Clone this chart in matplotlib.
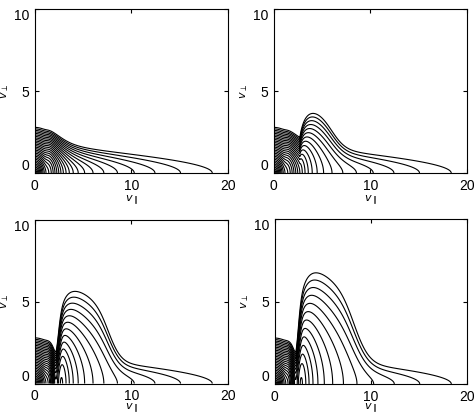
import numpy as np
import matplotlib
matplotlib.use("Agg")
import matplotlib.pyplot as plt

# ---- axis ticks ----
vpar_ticks = [0, 10, 20]
vperp_ticks = [0, 5, 10]

# ---- contour levels (ln f) ----
n_levels = 30
level_step = 0.13

# ---- background distribution (core + runaway tail) ----
core_rate = 1.4          # ln f_core = -core_rate * |v|
core_stretch = 1.08      # elongation of the core along v_par
tail_amp_ln = 0.18
tail_index = 2.37
tail_tperp0 = 1.0
tail_tperp_slope = 0.06
tail_onset = 1.3
tail_onset_width = 0.4

# ---- perpendicular heating (one entry per panel) ----
beam_height = [0.0, 7.0, 17.0, 26.0]
beam_start = [2.7, 2.7, 2.2, 2.2]
beam_rise = [1.0, 1.0, 1.15, 1.25]
beam_end = [6.0, 5.8, 7.4, 8.0]
beam_end_width = [0.7, 0.7, 0.6, 0.7]
hole_tail = [0.0, 0.0, 0.85, 0.85]
hole_core = [0.0, 0.0, 0.15, 0.15]
hole_center = [2.1, 2.1, 2.1, 2.1]
hole_width = [0.45, 0.45, 0.45, 0.45]

vpar = np.linspace(0, 20, 801)
vperp = np.linspace(0, 10, 401)
X, Y = np.meshgrid(vpar, vperp)


def log_f(i):
    core = np.exp(-core_rate * np.hypot(X / core_stretch, Y))
    g = np.exp(tail_amp_ln - tail_index * np.sqrt(np.log1p(X)))
    S = 0.5 * (1 + np.tanh((X - tail_onset) / tail_onset_width))
    Tt = tail_tperp0 + tail_tperp_slope * X
    rise = 1 - np.exp(-np.clip(X - beam_start[i], 0, None) / beam_rise[i])
    fall = 1 / (1 + np.exp((X - beam_end[i]) / beam_end_width[i]))
    T = Tt + beam_height[i] * rise * fall
    bump = np.exp(-((X - hole_center[i]) / hole_width[i]) ** 2)
    tail = S * g * np.exp(-Y**2 / (2 * T)) * (1 - hole_tail[i] * bump)
    core = core * (1 - hole_core[i] * bump)
    return np.log(core + tail)


levels = -level_step * np.arange(n_levels, 0, -1)

fig = plt.figure(figsize=(4.77, 4.16), dpi=100)
boxes = [
    [0.073, 0.584, 0.405, 0.394],
    [0.574, 0.584, 0.405, 0.394],
    [0.073, 0.078, 0.405, 0.394],
    [0.576, 0.077, 0.403, 0.396],
]
for i, b in enumerate(boxes):
    ax = fig.add_axes(b)
    ax.contour(X, Y, log_f(i), levels=levels, colors="k", linewidths=0.8,
               linestyles="solid")
    ax.set_xlim(0, 20)
    ax.set_ylim(0, 10)
    ax.set_xticks(vpar_ticks)
    ax.set_yticks(vperp_ticks)
    ax.tick_params(direction="in", length=3, width=0.8, top=True, right=True,
                   labelsize=10, pad=4)
    for lab in ax.get_xticklabels() + ax.get_yticklabels():
        lab.set_family("Liberation Sans")
    ylabs = ax.get_yticklabels()
    ylabs[0].set_va("bottom")
    ylabs[-1].set_va("top")
    for s in ax.spines.values():
        s.set_linewidth(0.8)
    ax.set_xlabel(r"$v_{\parallel}$", fontsize=8, labelpad=(1 if i < 2 else -1))
    ax.set_ylabel(r"$v_{\perp}$", fontsize=8, labelpad=2)

fig.savefig("out.png", dpi=100)
